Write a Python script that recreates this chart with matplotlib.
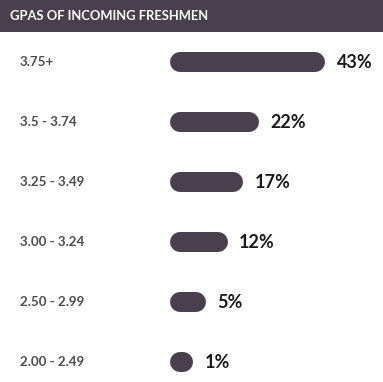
import matplotlib.pyplot as plt
import matplotlib.transforms as mtransforms
from matplotlib.patches import Rectangle

# datos
categorias = ['3.75+', '3.5 - 3.74', '3.25 - 3.49', '3.00 - 3.24', '2.50 - 2.99', '2.00 - 2.49']
valores = [43, 22, 17, 12, 5, 1]
titulo = 'GPAS OF INCOMING FRESHMEN'

W, H = 383, 382
oscuro = '#4a3f4c'
plt.rcParams['font.family'] = ['Lato', 'DejaVu Sans']

fig = plt.figure(figsize=(W / 100, H / 100), dpi=100)

# franja del titulo
fig.patches.append(Rectangle((0, 1 - 32 / H), 1, 32 / H, transform=fig.transFigure,
                             facecolor=oscuro, edgecolor='none'))
fig.text(10 / W, 1 - 16 / H, titulo, color='white', fontsize=9.4, fontweight='bold',
         va='center', ha='left')

# eje de barras: 3.14 px por punto porcentual, empieza en x=180 px
x0 = 180
escala = 3.14
ax = fig.add_axes([x0 / W, 0, (W - x0) / W, 1])
ax.set_xlim(0, (W - x0) / escala)
ax.set_ylim((H - 62) / 60, -62 / 60)
ax.axis('off')

trans = mtransforms.blended_transform_factory(fig.transFigure, ax.transData)

for i, (cat, v) in enumerate(zip(categorias, valores)):
    ax.plot([0, v], [i, i], color=oscuro, linewidth=14.4, solid_capstyle='round',
            clip_on=False)
    ax.text(20 / W, i, cat, transform=trans, color='#4d4d4d', fontsize=9.6,
            fontweight='bold', va='center', ha='left')
    ax.annotate(f'{v}%', xy=(v, i), xytext=(15.5, 0), textcoords='offset points',
                color='#1a1a1a', fontsize=13, fontweight='bold', va='center', ha='left')

fig.savefig('out.png', dpi=100)
